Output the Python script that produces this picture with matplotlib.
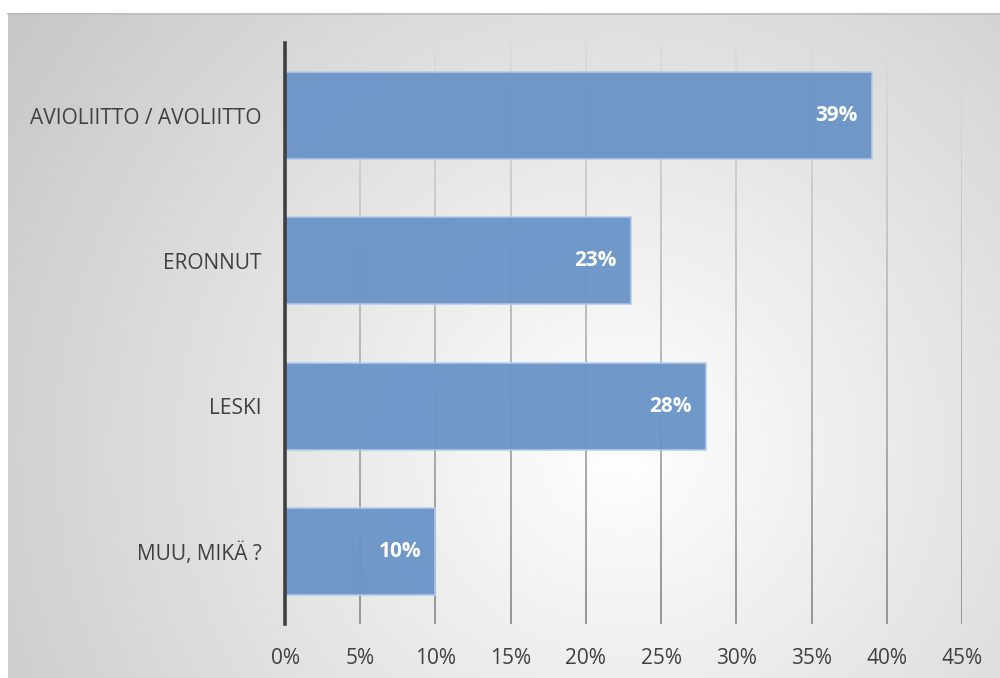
import numpy as np
import matplotlib
matplotlib.use('Agg')
import matplotlib.pyplot as plt
from matplotlib.collections import LineCollection

# ── Data ──────────────────────────────────────────────────────────────────────
categories = ['AVIOLIITTO / AVOLIITTO', 'ERONNUT', 'LESKI', 'MUU, MIKÄ ?']
values = [39, 23, 28, 10]
ticks = [0, 5, 10, 15, 20, 25, 30, 35, 40, 45]
tick_labels = ['0%', '5%', '10%', '15%', '20%', '25%', '30%', '35%', '40%', '45%']

# ── Style ─────────────────────────────────────────────────────────────────────
BAR = '#6994c8'
BAR_EDGE = '#b3cbe8'
TXT = '#404040'
FONT = 'Open Sans'

W, H = 1000, 678
fig = plt.figure(figsize=(W / 100, H / 100), dpi=100)
fig.patch.set_facecolor('white')

# background: radial gray gradient in the chart area
bg = fig.add_axes([0, 0, 1, 1], zorder=0)
yy, xx = np.mgrid[0:H, 0:W]
d = np.sqrt((xx - 620.0) ** 2 + (yy - 450.0) ** 2)
val = np.clip(1 - 0.22 * (d / 752.0), 0, 1)
img = np.dstack([val, val, val, np.ones_like(val)])
img[(xx < 8) | (yy < 13)] = [1, 1, 1, 1]
bg.imshow(img, extent=(0, W, H, 0), interpolation='bilinear', aspect='auto')
bg.plot([8, W], [13.5, 13.5], color='#bdbdbd', lw=1.2)
bg.set_xlim(0, W)
bg.set_ylim(H, 0)
bg.axis('off')

# main axes
x0, x1 = 285, 962
y_top, y_bot = 43, 624
ax = fig.add_axes([x0 / W, 1 - y_bot / H, (x1 - x0) / W, (y_bot - y_top) / H], zorder=1)
ax.patch.set_alpha(0)

ypos = np.arange(len(categories))
ax.set_xlim(0, 45)
ax.set_ylim(len(categories) - 0.5, -0.5)

# gridlines with a faint vertical fade (lighter at top)
n_seg = 40
ys = np.linspace(-0.5, len(categories) - 0.5, n_seg + 1)
top_c = np.array([0.86, 0.86, 0.86])
bot_c = np.array([0.56, 0.56, 0.56])
for t in ticks[1:]:
    segs = [[(t, ys[i]), (t, ys[i + 1])] for i in range(n_seg)]
    frac = np.linspace(0, 1, n_seg)[:, None]
    cols = top_c + (bot_c - top_c) * frac
    ax.add_collection(LineCollection(segs, colors=cols, linewidths=1.3, zorder=1))

ax.barh(ypos, values, height=0.6, color=BAR, alpha=0.95,
        edgecolor=BAR_EDGE, linewidth=1.2, zorder=2)

for y, v in zip(ypos, values):
    ax.text(v - 0.95, y, f'{v}%', ha='right', va='center', color='white',
            fontsize=15, fontweight='bold', family=FONT, zorder=3)

ax.set_yticks(ypos)
ax.set_yticklabels(categories, fontsize=15, color=TXT, family=FONT)
ax.set_xticks(ticks)
ax.set_xticklabels(tick_labels, fontsize=15, color=TXT, family=FONT)
ax.tick_params(axis='both', length=0)
ax.tick_params(axis='y', pad=17)
ax.tick_params(axis='x', pad=17)

for s in ['top', 'right', 'bottom']:
    ax.spines[s].set_visible(False)
ax.spines['left'].set_color('#404040')
ax.spines['left'].set_linewidth(2.6)
ax.spines['left'].set_zorder(4)

fig.savefig('out.png', dpi=100, facecolor='white')
